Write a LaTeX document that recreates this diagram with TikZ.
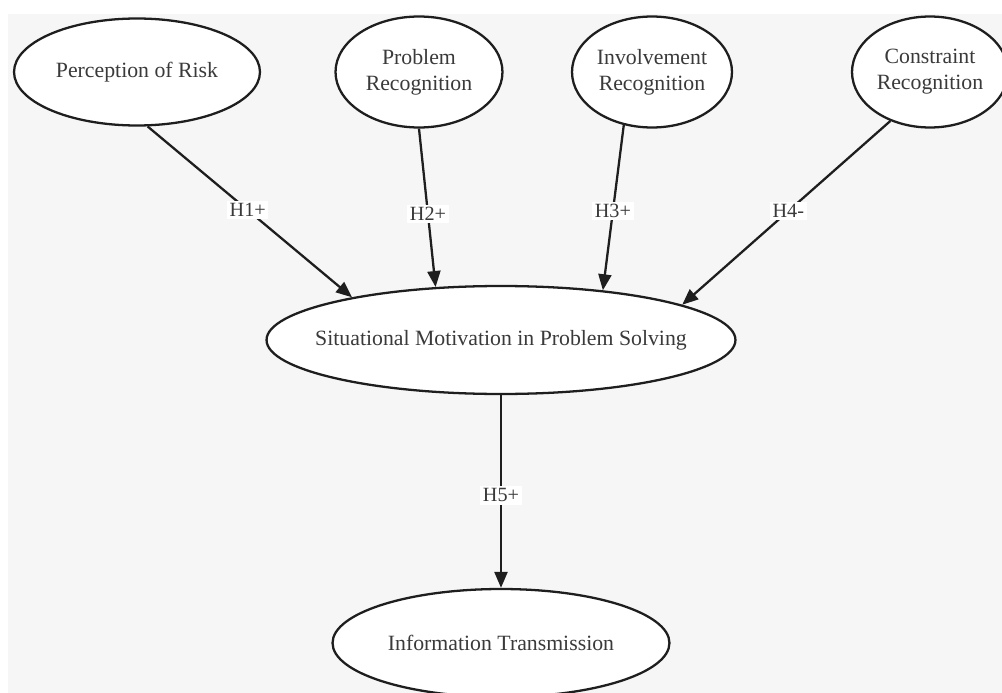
\documentclass[tikz,border=0pt]{standalone}
\usepackage{fontspec}
\setmainfont{Liberation Serif}
\usepackage{xcolor}
\usetikzlibrary{shapes.geometric, arrows.meta}
\definecolor{PaperGray}{HTML}{F6F6F6}
\definecolor{InkDark}{HTML}{1E1E1E}
\definecolor{TextGray}{HTML}{3A3A3A}

\begin{document}
\begin{tikzpicture}[x=0.02cm, y=-0.02cm,
        construct/.style={ellipse, draw=InkDark, line width=1.3pt, fill=white,
                    inner sep=0pt, align=center, text=TextGray,
                    font=\fontsize{12.4}{14.7}\selectfont},
        hyp/.style={-{Triangle[length=3.2mm, width=2.6mm]}, InkDark, line width=1.3pt},
        hlabel/.style={fill=white, inner sep=1.5pt, text=TextGray,
                    font=\fontsize{11.5}{13}\selectfont}]

        % Canvas
        \useasboundingbox (0,0) rectangle (1002,693);
        \clip (0,0) rectangle (1002,693);
        \fill[white] (0,0) rectangle (1002,693);
        \fill[PaperGray] (8,14) rectangle (1002,693);

        % Antecedent constructs
        \node[construct, minimum width=4.92cm, minimum height=2.14cm] (risk) at (137,72)  {Perception of Risk};
        \node[construct, minimum width=3.34cm, minimum height=2.22cm] (prob) at (419,72)  {Problem\\Recognition};
        \node[construct, minimum width=3.2cm,  minimum height=2.22cm] (invl) at (652,72)  {Involvement\\Recognition};
        \node[construct, minimum width=3.12cm, minimum height=2.22cm] (cons) at (930,72)  {Constraint\\Recognition};

        % Mediator and outcome
        \node[construct, minimum width=9.38cm, minimum height=2.16cm,
              inner xsep=-0.44cm] (motiv) at (501,340) {Situational Motivation in Problem Solving};
        \node[construct, minimum width=6.74cm, minimum height=2.16cm] (info)  at (501,643) {Information Transmission};

        % Hypothesised paths
        \draw[hyp] (risk.-79)  -- node[hlabel, pos=0.49] {H1+} (motiv.164);
        \draw[hyp] (prob.-90)  -- node[hlabel, pos=0.54] {H2+} (motiv.141.5);
        \draw[hyp] (invl.-118.6) -- node[hlabel, pos=0.52] {H3+} (motiv.26.8);
        \draw[hyp] (cons.-129.8) -- node[hlabel, pos=0.49] {H4-} (motiv.11.5);
        \draw[hyp] (motiv.south) -- node[hlabel, pos=0.52] {H5+} (info.north);
      \end{tikzpicture}
\end{document}
